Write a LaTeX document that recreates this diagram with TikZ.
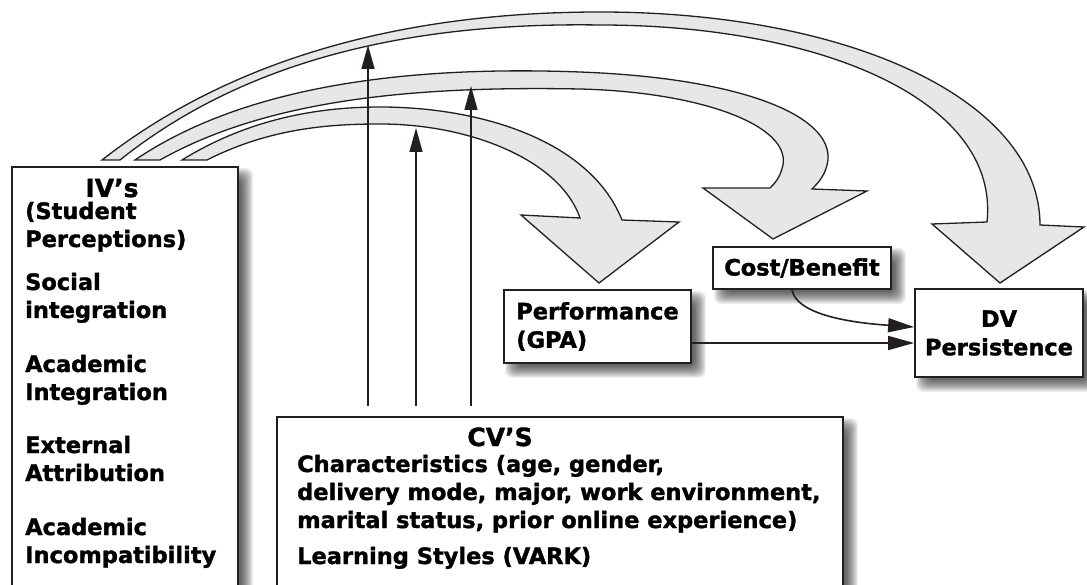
\documentclass[tikz,border=0pt]{standalone}
\usepackage{fontspec}
\setmainfont{DejaVu Sans}[BoldFeatures={FakeBold=1.5}]
\usetikzlibrary{arrows.meta,calc}
\definecolor{bandgray}{HTML}{E6E7E8}
\definecolor{boxline}{HTML}{231F20}
\pgfdeclarelayer{bg}
\pgfsetlayers{bg,main}
\tikzset{
  band/.style={fill=bandgray, draw=boxline, line width=1.3pt, line join=miter},
  box/.style={draw=boxline, line width=1.8pt, fill=white, inner sep=0pt},
  bodyfont/.style={font=\bfseries\fontsize{22.5}{28.5}\selectfont},
  lbl/.style={bodyfont, inner sep=0pt, anchor=base west},
  headlbl/.style={font=\bfseries\fontsize{25}{30}\selectfont, inner sep=0pt, anchor=base},
  vline/.style={draw=boxline, line width=1.4pt, -{Triangle[length=24pt,width=13pt]}, shorten <=10pt},
  link/.style={draw=boxline, line width=1.6pt, -{Triangle[length=26pt,width=14pt]}},
}
\newcommand{\softshadow}[1]{%
  \foreach \g [evaluate=\g as \a using 8-\g, evaluate=\g as \b using 8+\g] in {-6,...,6} {%
    \fill[black, opacity=0.065, rounded corners=7pt]
      ($(#1.north west)+(\a,\a)$) rectangle ($(#1.south east)+(\b,\b)$);
  }%
}
\begin{document}
\begin{tikzpicture}[x=1pt,y=-1pt]
\useasboundingbox (0,0) rectangle (1087,585);
\clip (0,0) rectangle (1087,585);

% curved arrows
\path[band] (102,160) .. controls (230,60) and (400,12) .. (600,12)
  .. controls (850,12) and (1040,100) .. (1040,225)
  -- (1084,227) -- (1000,283) -- (932,224) -- (987,222)
  .. controls (1000,100) and (820,25) .. (600,25)
  .. controls (410,22) and (245,60) .. (120,160) -- cycle;
\path[band] (135,160) .. controls (250,82) and (420,66) .. (580,72)
  .. controls (740,78) and (832,115) .. (828,160)
  .. controls (826,175) and (818,183) .. (812,189)
  -- (867,191) -- (773,239) -- (703,188) -- (770,188)
  .. controls (775,183) and (780,178) .. (783,165)
  .. controls (790,125) and (700,92) .. (580,89)
  .. controls (420,86) and (270,98) .. (160,160) -- cycle;
\path[band] (182,160) .. controls (250,118) and (320,107) .. (380,107)
  .. controls (480,107) and (590,140) .. (622,220)
  -- (679,222) -- (599,283) -- (521,215) -- (580,218)
  .. controls (560,160) and (470,124) .. (380,124)
  .. controls (330,124) and (270,128) .. (207,160) -- cycle;

% boxes
\node[box, minimum width=226pt, minimum height=460pt] (iv) at (125,397) {};
\node[box, minimum width=566pt, minimum height=200pt] (cv) at (560,517) {};
\node[box, bodyfont, minimum width=187pt, minimum height=73pt, align=left] (perf) at (597.5,326.5) {Performance\\(GPA)};
\node[box, bodyfont, minimum width=178pt, minimum height=42pt] (cb) at (802,268) {Cost/Benefit};
\node[box, bodyfont, minimum width=168pt, minimum height=88pt, align=center] (dv) at (999,333) {DV\\Persistence};

\begin{pgfonlayer}{bg}
  \softshadow{iv}
  \softshadow{cv}
  \softshadow{perf}
  \softshadow{cb}
  \softshadow{dv}
\end{pgfonlayer}

% IV text
\node[headlbl] (ivh) at (112,197) {IV’s};
\node[lbl] (iva1) at (25,219) {(Student};
\node[lbl] (iva2) at (25,247) {Perceptions)};
\node[lbl] (ivb1) at (25,290) {Social};
\node[lbl] (ivb2) at (25,318) {integration};
\node[lbl] (ivc1) at (25,372) {Academic};
\node[lbl] (ivc2) at (25,400) {Integration};
\node[lbl] (ivd1) at (25,453) {External};
\node[lbl] (ivd2) at (25,481) {Attribution};
\node[lbl] (ive1) at (25,535) {Academic};
\node[lbl] (ive2) at (25,563) {Incompatibility};

% CV text
\node[headlbl] (cvh) at (500,446) {CV’S};
\node[lbl] (cv1) at (297,472) {Characteristics (age, gender,};
\node[lbl] (cv2) at (297,500) {delivery mode, major, work environment,};
\node[lbl] (cv3) at (297,528) {marital status, prior online experience)};
\node[lbl] (cv4) at (297,564) {Learning Styles (VARK)};

% vertical arrows from CV box
\coordinate (t1) at (368,45);
\coordinate (t2) at (416,128);
\coordinate (t3) at (471,86);
\draw[vline] (cv.north -| t1) -- (t1);
\draw[vline] (cv.north -| t2) -- (t2);
\draw[vline] (cv.north -| t3) -- (t3);

% links to DV
\draw[link] ([yshift=-16.5pt]perf.east) -- ([yshift=-10pt]dv.west);
\draw[link] ([xshift=-10pt]cb.south) .. controls (796,312) and (840,322) .. ([yshift=6pt]dv.west);
\end{tikzpicture}
\end{document}
